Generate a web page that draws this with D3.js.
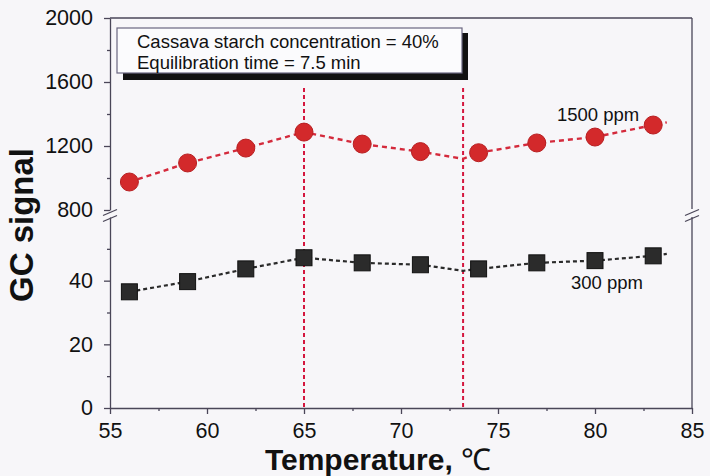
<!DOCTYPE html>
<html><head><meta charset="utf-8">
<script src="https://cdn.jsdelivr.net/npm/d3@7"></script>
<style>
html,body{margin:0;padding:0;background:#f7f6f9;}
svg{display:block;font-family:"Liberation Sans",Arial,sans-serif;}
</style></head>
<body>
<script>
// ---- data ----
const temps = [56, 59, 62, 65, 68, 71, 74, 77, 80, 83];
const signal1500 = [975, 1094, 1187, 1287, 1212, 1165, 1158, 1219, 1256, 1331];
const signal300 = [36.5, 39.7, 43.7, 47.2, 45.6, 45.0, 43.7, 45.6, 46.3, 47.8];
// dashed connecting lines (including the kink at the marked line and the short tail)
const lineTemps = [56, 59, 62, 65, 68, 71, 73.2, 74, 77, 80, 83, 83.7];
const line1500 = [975, 1094, 1187, 1287, 1212, 1165, 1120, 1158, 1219, 1256, 1331, 1348];
const line300 = [36.5, 39.7, 43.7, 47.2, 45.6, 45.0, 43.1, 43.7, 45.6, 46.3, 47.8, 48.4];
const markerTemps = [65, 73.2];
const xTicks = [55, 60, 65, 70, 75, 80, 85];
const xMinor = [57.5, 62.5, 67.5, 72.5, 77.5, 82.5];
const yUpTicks = [800, 1200, 1600, 2000];
const yUpMinor = [1000, 1400, 1800];
const yLowTicks = [0, 20, 40];
const yLowMinor = [10, 30, 50];
const boxLines = ["Cassava starch concentration = 40%", "Equilibration time = 7.5 min"];

const W = 710, H = 476;
const L = 110, R = 692, T = 18, B = 408;
const svg = d3.select("body").append("svg").attr("width", W).attr("height", H);
svg.append("rect").attr("width", W).attr("height", H).attr("fill", "#f7f6f9");

const x = d3.scaleLinear().domain([55, 85]).range([L, R]);
const yUp = d3.scaleLinear().domain([800, 2000]).range([210, T]);
const yLow = d3.scaleLinear().domain([0, 60]).range([B, 217]);
const axisColor = "#4a4658";

// frame top and right
svg.append("line").attr("x1", L).attr("x2", R).attr("y1", T).attr("y2", T).attr("stroke", axisColor).attr("stroke-width", 1.3);
svg.append("line").attr("x1", R).attr("x2", R).attr("y1", T).attr("y2", 209).attr("stroke", axisColor).attr("stroke-width", 1.3);
svg.append("line").attr("x1", R).attr("x2", R).attr("y1", 217).attr("y2", B).attr("stroke", axisColor).attr("stroke-width", 1.3);

function styleAxis(g) {
  g.selectAll("path,line").attr("stroke", axisColor).attr("stroke-width", 1.3);
  g.selectAll("text").attr("fill", "#111").style("font-size", "21.5px").style("font-family", "\"Liberation Sans\",Arial,sans-serif");
}
// x axis
const gx = svg.append("g").attr("transform", `translate(0,${B})`)
  .call(d3.axisBottom(x).tickValues(xTicks).tickSize(6).tickPadding(9).tickFormat(d3.format("d")).tickSizeOuter(0));
styleAxis(gx);
const gxm = svg.append("g").attr("transform", `translate(0,${B})`)
  .call(d3.axisBottom(x).tickValues(xMinor).tickSize(3).tickFormat("").tickSizeOuter(0));
styleAxis(gxm); gxm.select(".domain").remove();

// y axes
const gyu = svg.append("g").attr("transform", `translate(${L},0)`)
  .call(d3.axisLeft(yUp).tickValues(yUpTicks).tickSize(6).tickPadding(11).tickFormat(d3.format("d")).tickSizeOuter(0));
styleAxis(gyu);
const gyum = svg.append("g").attr("transform", `translate(${L},0)`)
  .call(d3.axisLeft(yUp).tickValues(yUpMinor).tickSize(3).tickFormat("").tickSizeOuter(0));
styleAxis(gyum); gyum.select(".domain").remove();
const gyl = svg.append("g").attr("transform", `translate(${L},0)`)
  .call(d3.axisLeft(yLow).tickValues(yLowTicks).tickSize(6).tickPadding(11).tickFormat(d3.format("d")).tickSizeOuter(0));
styleAxis(gyl);
const gylm = svg.append("g").attr("transform", `translate(${L},0)`)
  .call(d3.axisLeft(yLow).tickValues(yLowMinor).tickSize(3).tickFormat("").tickSizeOuter(0));
styleAxis(gylm); gylm.select(".domain").remove();

// break marks
[L, R].forEach(cx => {
  [-1.5, 4.5].forEach(dy => {
    svg.append("line").attr("x1", cx - 7).attr("x2", cx + 7).attr("y1", 214 + dy + 3).attr("y2", 214 + dy - 3)
      .attr("stroke", axisColor).attr("stroke-width", 1.3);
  });
});

// vertical reference lines
markerTemps.forEach(t => {
  svg.append("line").attr("x1", x(t)).attr("x2", x(t)).attr("y1", 88).attr("y2", B)
    .attr("stroke", "#d4163e").attr("stroke-width", 2).attr("stroke-dasharray", "4,3");
});

// dashed lines
const lineUp = d3.line().x((d, i) => x(lineTemps[i])).y(d => yUp(d));
const lineLow = d3.line().x((d, i) => x(lineTemps[i])).y(d => yLow(d));
svg.append("path").datum(line1500).attr("d", lineUp).attr("fill", "none")
  .attr("stroke", "#d42a3c").attr("stroke-width", 2.4).attr("stroke-dasharray", "5,4");
svg.append("path").datum(line300).attr("d", lineLow).attr("fill", "none")
  .attr("stroke", "#2a2a2a").attr("stroke-width", 2.2).attr("stroke-dasharray", "4,3");

// markers
svg.selectAll(".c").data(temps).enter().append("circle")
  .attr("cx", d => x(d)).attr("cy", (d, i) => yUp(signal1500[i])).attr("r", 9)
  .attr("fill", "#d3292b").attr("stroke", "#b81f22").attr("stroke-width", 1);
svg.selectAll(".s").data(temps).enter().append("rect")
  .attr("x", d => x(d) - 8).attr("y", (d, i) => yLow(signal300[i]) - 8).attr("width", 16).attr("height", 16)
  .attr("fill", "#2b2b2b").attr("stroke", "#111").attr("stroke-width", 1);

// series labels
svg.append("text").attr("x", 557).attr("y", 121).attr("font-size", 18.5).attr("fill", "#111").text("1500 ppm");
svg.append("text").attr("x", 571).attr("y", 289).attr("font-size", 18.5).attr("fill", "#111").text("300 ppm");

// text box with shadow
svg.append("rect").attr("x", 123).attr("y", 33).attr("width", 345).attr("height", 47).attr("fill", "#111");
svg.append("rect").attr("x", 117).attr("y", 28).attr("width", 345).attr("height", 45).attr("fill", "#fbfbfd")
  .attr("stroke", "#6a6680").attr("stroke-width", 1.2);
boxLines.forEach((s, i) => {
  svg.append("text").attr("x", 137).attr("y", 48 + i * 21).attr("font-size", 18.5).attr("fill", "#111").text(s);
});

// axis titles
svg.append("text").attr("transform", "translate(33,225) rotate(-90)").attr("text-anchor", "middle")
  .attr("font-size", 33).attr("font-weight", "bold").attr("fill", "#111").text("GC signal");
const xt = svg.append("text").attr("x", 378).attr("y", 470).attr("text-anchor", "middle").attr("fill", "#111");
xt.append("tspan").attr("font-size", 30).attr("font-weight", "bold").text("Temperature, ");
xt.append("tspan").attr("font-size", 30).attr("font-weight", "normal").text("℃");
</script>
</body></html>
